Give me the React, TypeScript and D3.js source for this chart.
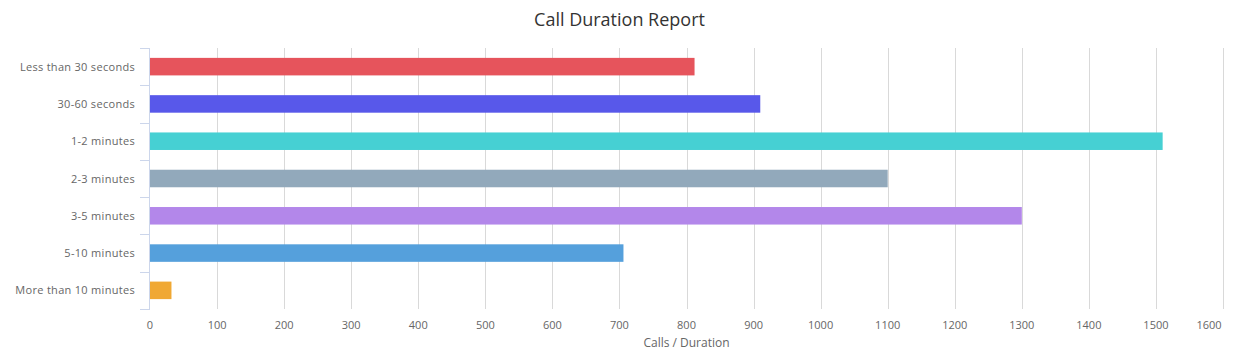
import React from "react";
import * as d3 from "d3";

const categories = [
  "Less than 30 seconds",
  "30-60 seconds",
  "1-2 minutes",
  "2-3 minutes",
  "3-5 minutes",
  "5-10 minutes",
  "More than 10 minutes",
];
const values = [812, 910, 1510, 1100, 1300, 706, 32];
const colors = ["#e6545c", "#5858ea", "#46d0d3", "#92a9bb", "#b387ea", "#55a0dc", "#f0a833"];
const xTicks = [0, 100, 200, 300, 400, 500, 600, 700, 800, 900, 1000, 1100, 1200, 1300, 1400, 1500, 1600];
const title = "Call Duration Report";
const xTitle = "Calls / Duration";

const W = 1243;
const H = 359;
const left = 150;
const right = 1223;
const top = 48;
const bottom = 309;
const FONT = "'Open Sans', 'DejaVu Sans', sans-serif";

export default function App() {
  const x = d3.scaleLinear().domain([0, 1600]).range([left, right]);
  const y = d3.scaleBand<string>().domain(categories).range([top, bottom]).padding(0);
  const bw = y.bandwidth();
  const barH = bw * 0.47;
  const boundaries = d3.range(categories.length + 1).map((i) => top + i * bw);

  return (
    <svg
      width={W}
      height={H}
      style={{ position: "absolute", left: 0, top: 0, background: "#fff" }}
      fontFamily={FONT}
    >
      <rect x={0} y={0} width={W} height={H} fill="#fff" />
      <text x={(left + right) / 2 - 67} y={26} textAnchor="middle" fontSize={18} fill="#333">
        {title}
      </text>
      {xTicks.map((t) =>
        t === 0 ? null : (
          <line key={"g" + t} x1={Math.round(x(t)) + 0.5} x2={Math.round(x(t)) + 0.5} y1={top} y2={bottom} stroke="#d9d9d9" strokeWidth={1} />
        )
      )}
      {categories.map((c, i) => (
        <rect
          key={c}
          x={x(0)}
          y={(y(c) as number) + (bw - barH) / 2}
          width={x(values[i]) - x(0)}
          height={barH}
          fill={colors[i]}
        />
      ))}
      <line x1={left - 0.5} x2={left - 0.5} y1={top} y2={bottom} stroke="#ccd6eb" strokeWidth={1} />
      {boundaries.map((b, i) => (
        <line key={"t" + i} x1={left - 10} x2={left} y1={Math.round(b) + 0.5} y2={Math.round(b) + 0.5} stroke="#ccd6eb" strokeWidth={1} />
      ))}
      {categories.map((c) => (
        <text key={"l" + c} x={135} y={(y(c) as number) + bw / 2 + 4} textAnchor="end" fontSize={11} letterSpacing={0.3} fill="#666">
          {c}
        </text>
      ))}
      {xTicks.map((t) => (
        <text key={"x" + t} x={x(t) - (t === 1600 ? 14 : 0)} y={329} textAnchor="middle" fontSize={11} fill="#666">
          {t}
        </text>
      ))}
      <text x={(left + right) / 2} y={347} textAnchor="middle" fontSize={12} fill="#666">
        {xTitle}
      </text>
    </svg>
  );
}
